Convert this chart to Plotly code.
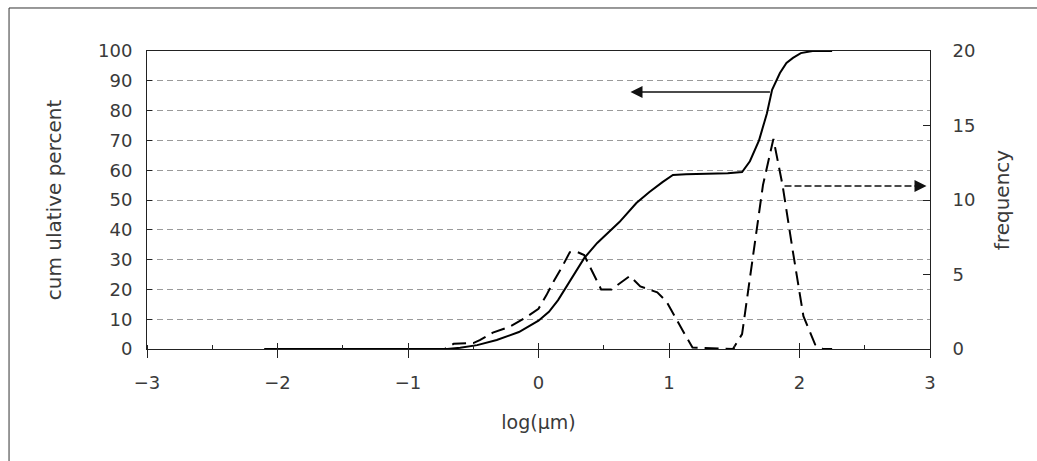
import plotly.graph_objects as go

# cumulative percent (solid line, left axis)
cum_x = [-2.1, -1.0, -0.7, -0.6, -0.47, -0.32, -0.15, 0.0, 0.08, 0.15, 0.26, 0.35, 0.45,
         0.62, 0.75, 0.85, 0.95, 1.03, 1.13, 1.3, 1.45, 1.56, 1.62, 1.69, 1.75, 1.79,
         1.85, 1.90, 1.95, 2.01, 2.1, 2.25]
cum_y = [0, 0, 0, 0.4, 1.3, 3.0, 5.7, 9.5, 12.5, 16.4, 24.2, 30.5, 35.6,
         42.6, 49, 52.7, 56, 58.4, 58.6, 58.8, 59.0, 59.4, 63, 70, 79, 87,
         92.6, 96, 97.7, 99.3, 100, 100]

# frequency (dashed line, right axis)
freq_x = [-2.1, -0.72, -0.65, -0.5, -0.45, -0.35, -0.22, -0.1, 0.0, 0.06, 0.12, 0.18,
          0.24, 0.30, 0.35, 0.41, 0.48, 0.56, 0.70, 0.78, 0.91, 0.98, 1.06, 1.12, 1.18,
          1.49, 1.56, 1.64, 1.72, 1.80, 1.87, 1.95, 2.03, 2.12, 2.18, 2.25]
freq_y = [0, 0, 0.35, 0.4, 0.6, 1.1, 1.5, 2.1, 2.7, 3.6, 4.6, 5.5,
          6.5, 6.5, 6.3, 5.2, 4.0, 4.0, 4.9, 4.2, 3.8, 3.2, 1.9, 1.0, 0.1,
          0, 1.0, 6.0, 11.0, 14.1, 11.0, 6.5, 2.2, 0.3, 0, 0]

x_ticks = [-3, -2, -1, 0, 1, 2, 3]
x_labels = ["\u22123", "\u22122", "\u22121", "0", "1", "2", "3"]
left_ticks = [0, 10, 20, 30, 40, 50, 60, 70, 80, 90, 100]
right_ticks = [0, 5, 10, 15, 20]

# arrow positions (annotation anchors)
cum_arrow = dict(tail=1.785, head=0.705, level=86.2)
freq_arrow = dict(tail=1.885, head=2.973, level=10.94)

FONT = "DejaVu Sans"
INK = "#222222"
TEXT = "#3a3a3a"

fig = go.Figure()
fig.add_trace(go.Scatter(x=cum_x, y=cum_y, mode="lines",
                         line=dict(color="#000000", width=2), showlegend=False))
fig.add_trace(go.Scatter(x=freq_x, y=freq_y, mode="lines", yaxis="y2",
                         line=dict(color="#000000", width=2, dash="14px,7px"),
                         showlegend=False))
fig.add_trace(go.Scatter(x=[], y=[], xaxis="x2", showlegend=False))

fig.update_layout(
    width=1037, height=461,
    margin=dict(l=147, r=107, t=51, b=112),
    paper_bgcolor="white", plot_bgcolor="white",
    font=dict(family=FONT, size=18, color=TEXT),
    xaxis=dict(range=[-3, 3], tickvals=x_ticks, ticktext=x_labels,
               ticks="outside", ticklen=8, tickwidth=1, tickcolor=INK,
               minor=dict(ticks="inside", dtick=0.5, ticklen=4, tickcolor=INK, showgrid=False),
               showline=True, linecolor=INK, linewidth=1, mirror=True,
               showgrid=False, zeroline=False, ticklabelstandoff=9,
               title=dict(text="log(\u03bcm)", standoff=24, font=dict(size=19))),
    xaxis2=dict(range=[-3, 3], overlaying="x", anchor="y", side="bottom",
                tickvals=x_ticks, ticks="inside", ticklen=6, tickcolor=INK,
                showticklabels=False, showline=False, showgrid=False, zeroline=False),
    yaxis=dict(range=[0, 100], tickvals=left_ticks, ticks="inside", ticklen=5,
               tickcolor=INK, showline=True, linecolor=INK, linewidth=1,
               showgrid=True, gridcolor="#9a9a9a", gridwidth=1, griddash="6px,4px",
               zeroline=False, ticklabelstandoff=10,
               title=dict(text="cum ulative percent", standoff=31, font=dict(size=20))),
    yaxis2=dict(range=[0, 20], tickvals=right_ticks, overlaying="y", side="right",
                anchor="x", ticks="inside", ticklen=7, tickcolor=INK,
                showline=True, linecolor=INK, linewidth=1, showgrid=False,
                zeroline=False, ticklabelstandoff=18,
                title=dict(text="frequency", standoff=20, font=dict(size=20))),
)

# outer frame
fig.add_shape(type="rect", xref="paper", yref="paper",
              x0=-0.1762, x1=1.16, y0=-0.42, y1=1.1443,
              line=dict(color="#333333", width=1), fillcolor="rgba(0,0,0,0)", layer="below")

# solid arrow pointing to left axis
fig.add_annotation(x=cum_arrow["head"], y=cum_arrow["level"], xref="x", yref="y",
                   ax=cum_arrow["tail"], ay=cum_arrow["level"], axref="x", ayref="y",
                   text="", showarrow=True, arrowhead=2, arrowsize=1.6, arrowwidth=1.5,
                   arrowcolor="#111111")

# dashed arrow pointing to right axis
fig.add_shape(type="line", xref="x", yref="y2",
              x0=freq_arrow["tail"], x1=freq_arrow["head"] - 0.05,
              y0=freq_arrow["level"], y1=freq_arrow["level"],
              line=dict(color="#111111", width=1.5, dash="7px,3px"))
fig.add_annotation(x=freq_arrow["head"], y=freq_arrow["level"], xref="x", yref="y2",
                   ax=freq_arrow["head"] - 0.1, ay=freq_arrow["level"], axref="x", ayref="y2",
                   text="", showarrow=True, arrowhead=2, arrowsize=1.6, arrowwidth=1.5,
                   arrowcolor="#111111")

fig.write_html("out.html")
